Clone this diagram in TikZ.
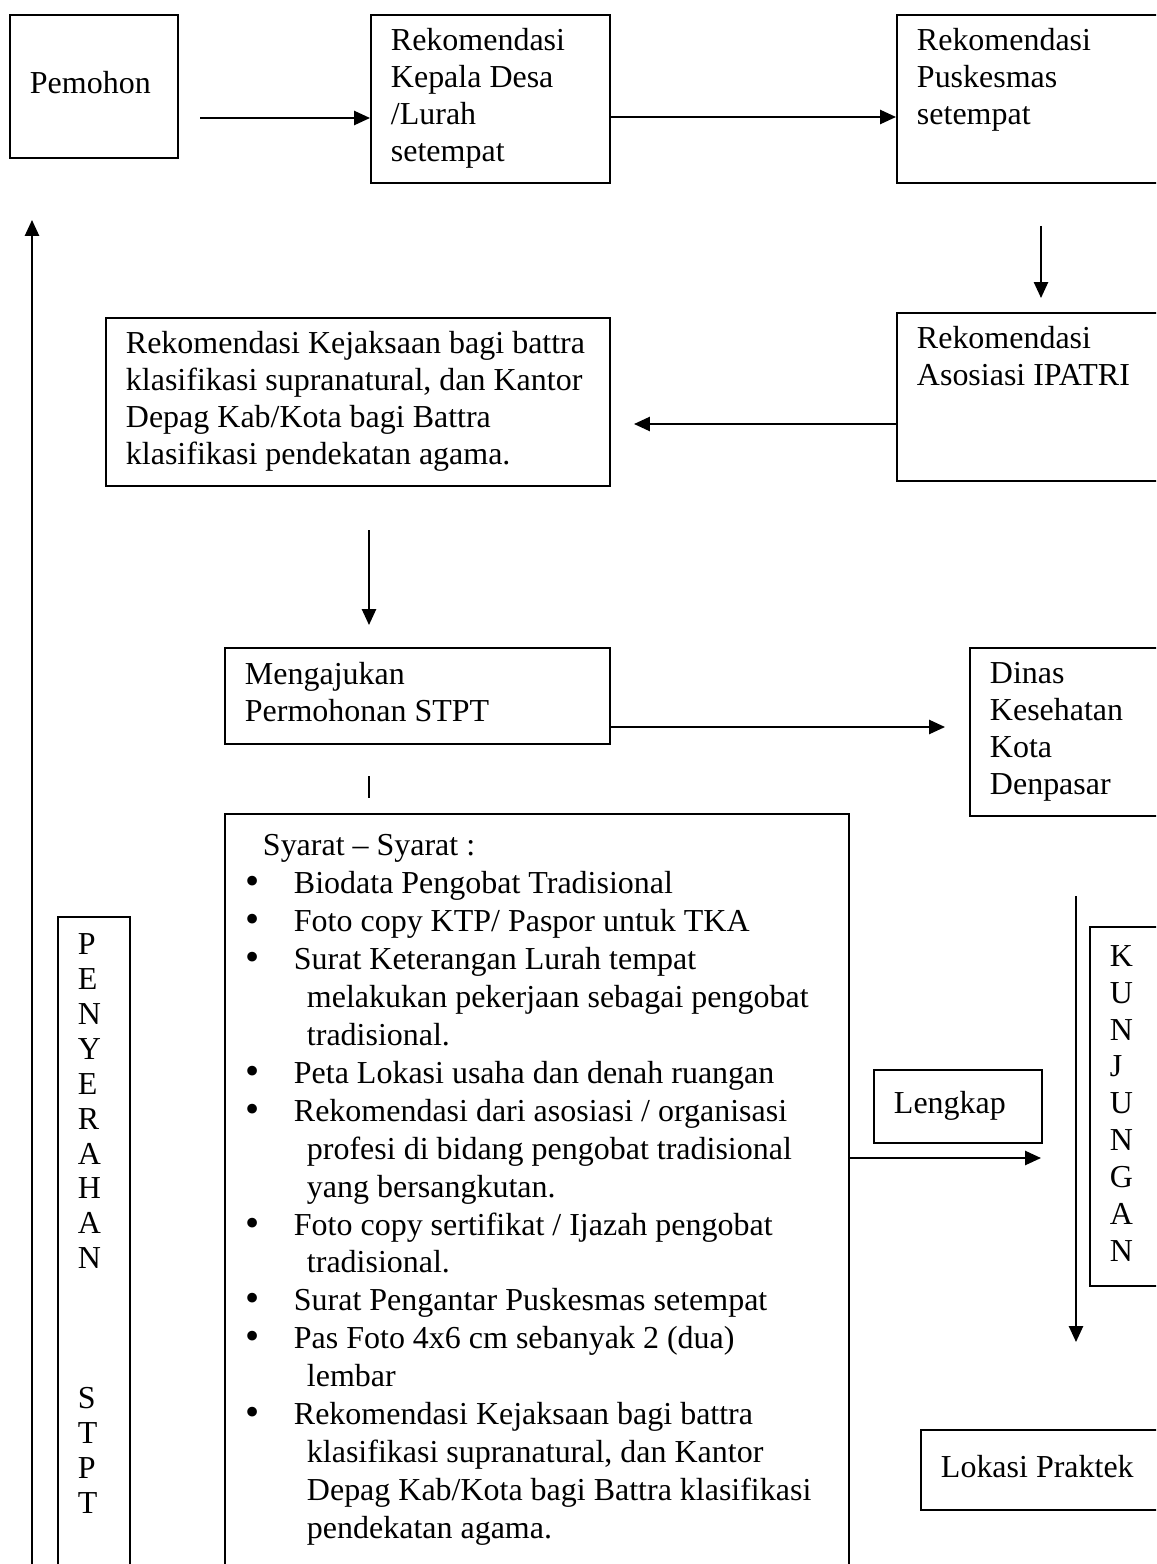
\documentclass[tikz,border=0pt]{standalone}
\usepackage{fontspec}
\setmainfont{Liberation Serif}
\usepackage{tikz}
\usetikzlibrary{arrows.meta}
\newlength{\pxu}
\setlength{\pxu}{0.02cm}
\newcommand{\itembul}{\hspace*{21\pxu}\makebox[48\pxu][l]{\raisebox{-0.6pt}{\fontsize{23}{0}\selectfont •}}}
\newcommand{\itemcont}{\hspace*{82\pxu}}

\begin{document}
\begin{tikzpicture}[x=0.02cm,y=-0.02cm,
  box/.style={draw,line width=1.1pt,anchor=north west,align=flush left,inner xsep=0.4cm,inner ysep=0pt,font=\fontsize{18.2}{21}\selectfont},
  flow/.style={line width=1.1pt,-{Triangle[length=9pt,width=8pt]}}]
\useasboundingbox (0,0) rectangle (1156,1564);
\clip (0,0) rectangle (1156,1564);
\node[box,text width=2.56cm,minimum height=2.86cm] (pemohon) at (9,14) {\strut Pemohon\strut};
\node[box,text width=3.98cm,minimum height=3.36cm] (kepala) at (370,14) {\strut Rekomendasi\\Kepala Desa\\/Lurah\\setempat\strut};
\node[box,text width=5.2cm,minimum height=3.36cm] (pusk) at (896,14) {\strut Rekomendasi\\Puskesmas\\setempat\\\strut};
\node[box,text width=5.2cm,minimum height=3.36cm] (ipatri) at (896,312) {\strut Rekomendasi\\Asosiasi IPATRI\\\strut\\\strut};
\node[box,text width=9.28cm,minimum height=3.36cm] (kejaksaan) at (105,317)
  {\strut\mbox{Rekomendasi Kejaksaan bagi battra}\\\mbox{klasifikasi supranatural, dan Kantor}\\Depag Kab/Kota bagi Battra\\klasifikasi pendekatan agama.\strut};
\node[box,text width=6.9cm,minimum height=1.92cm] (mengajukan) at (224,647) {\strut Mengajukan\\Permohonan STPT\strut};
\node[box,text width=3.6cm,minimum height=3.36cm] (dinas) at (969,647) {\strut Dinas\\Kesehatan\\Kota\\Denpasar\strut};
\node[box,text width=2.56cm,minimum height=1.46cm] (lengkap) at (873,1069) {\strut Lengkap\strut};
\node[box,text width=1.2cm,minimum height=7.18cm] (kunjungan) at (1089,926) {\strut K\\U\\N\\J\\U\\N\\G\\A\\N\strut};
\node[box,text width=4.4cm,minimum height=1.6cm] (lokasi) at (920,1429) {\strut Lokasi Praktek\strut};
\node[box,text width=0.64cm,minimum height=13.8cm,font=\fontsize{18.2}{19.9}\selectfont] (penyerahan) at (57,916)
  {\strut P\\E\\N\\Y\\E\\R\\A\\H\\A\\N\\\strut\\\strut\\\strut\\S\\T\\P\\T\\\strut\\\strut};
\node[box,inner xsep=0pt] (syarat) at (224,813) {\begin{minipage}[t][800\pxu][t]{624\pxu}
  \fontsize{18.2}{21.6}\selectfont\raggedright
  \vspace*{15\pxu}
  \strut\hspace*{38\pxu}Syarat – Syarat :\\
  \itembul Biodata Pengobat Tradisional\\
  \itembul Foto copy KTP/ Paspor untuk TKA\\
  \itembul Surat Keterangan Lurah tempat\\
  \itemcont melakukan pekerjaan sebagai pengobat\\
  \itemcont tradisional.\\
  \itembul Peta Lokasi usaha dan denah ruangan\\
  \itembul Rekomendasi dari asosiasi / organisasi\\
  \itemcont profesi di bidang pengobat tradisional\\
  \itemcont yang bersangkutan.\\
  \itembul Foto copy sertifikat / Ijazah pengobat\\
  \itemcont tradisional.\\
  \itembul Surat Pengantar Puskesmas setempat\\
  \itembul Pas Foto 4x6 cm sebanyak 2 (dua)\\
  \itemcont lembar\\
  \itembul Rekomendasi Kejaksaan bagi battra\\
  \itemcont klasifikasi supranatural, dan Kantor\\
  \itemcont Depag Kab/Kota bagi Battra klasifikasi\\
  \itemcont pendekatan agama.
\end{minipage}};
\coordinate (p1) at (200,118);
\coordinate (k1) at (640,117);
\coordinate (d1) at (1041,226);
\coordinate (d2) at (1041,298);
\coordinate (i1) at (634,424);
\coordinate (j1) at (369,530);
\coordinate (j2) at (369,625);
\coordinate (m1) at (945,727);
\coordinate (s1) at (369,776);
\coordinate (s2) at (369,798);
\coordinate (l1) at (1041,1158);
\coordinate (u1) at (1076,896);
\coordinate (u2) at (1076,1342);
\coordinate (b1) at (32,1600);
\coordinate (b2) at (32,220);
\draw[flow] (p1) -- (kepala.west |- p1);
\draw[flow] (kepala.east |- k1) -- (pusk.west |- k1);
\draw[flow] (d1) -- (d2);
\draw[flow] (ipatri.west |- i1) -- (i1);
\draw[flow] (j1) -- (j2);
\draw[flow] (mengajukan.east |- m1) -- (m1);
\draw[line width=1.1pt] (s1) -- (s2);
\draw[flow] (syarat.east |- l1) -- (l1);
\draw[flow] (u1) -- (u2);
\draw[flow] (b1) -- (b2);
\end{tikzpicture}
\end{document}
